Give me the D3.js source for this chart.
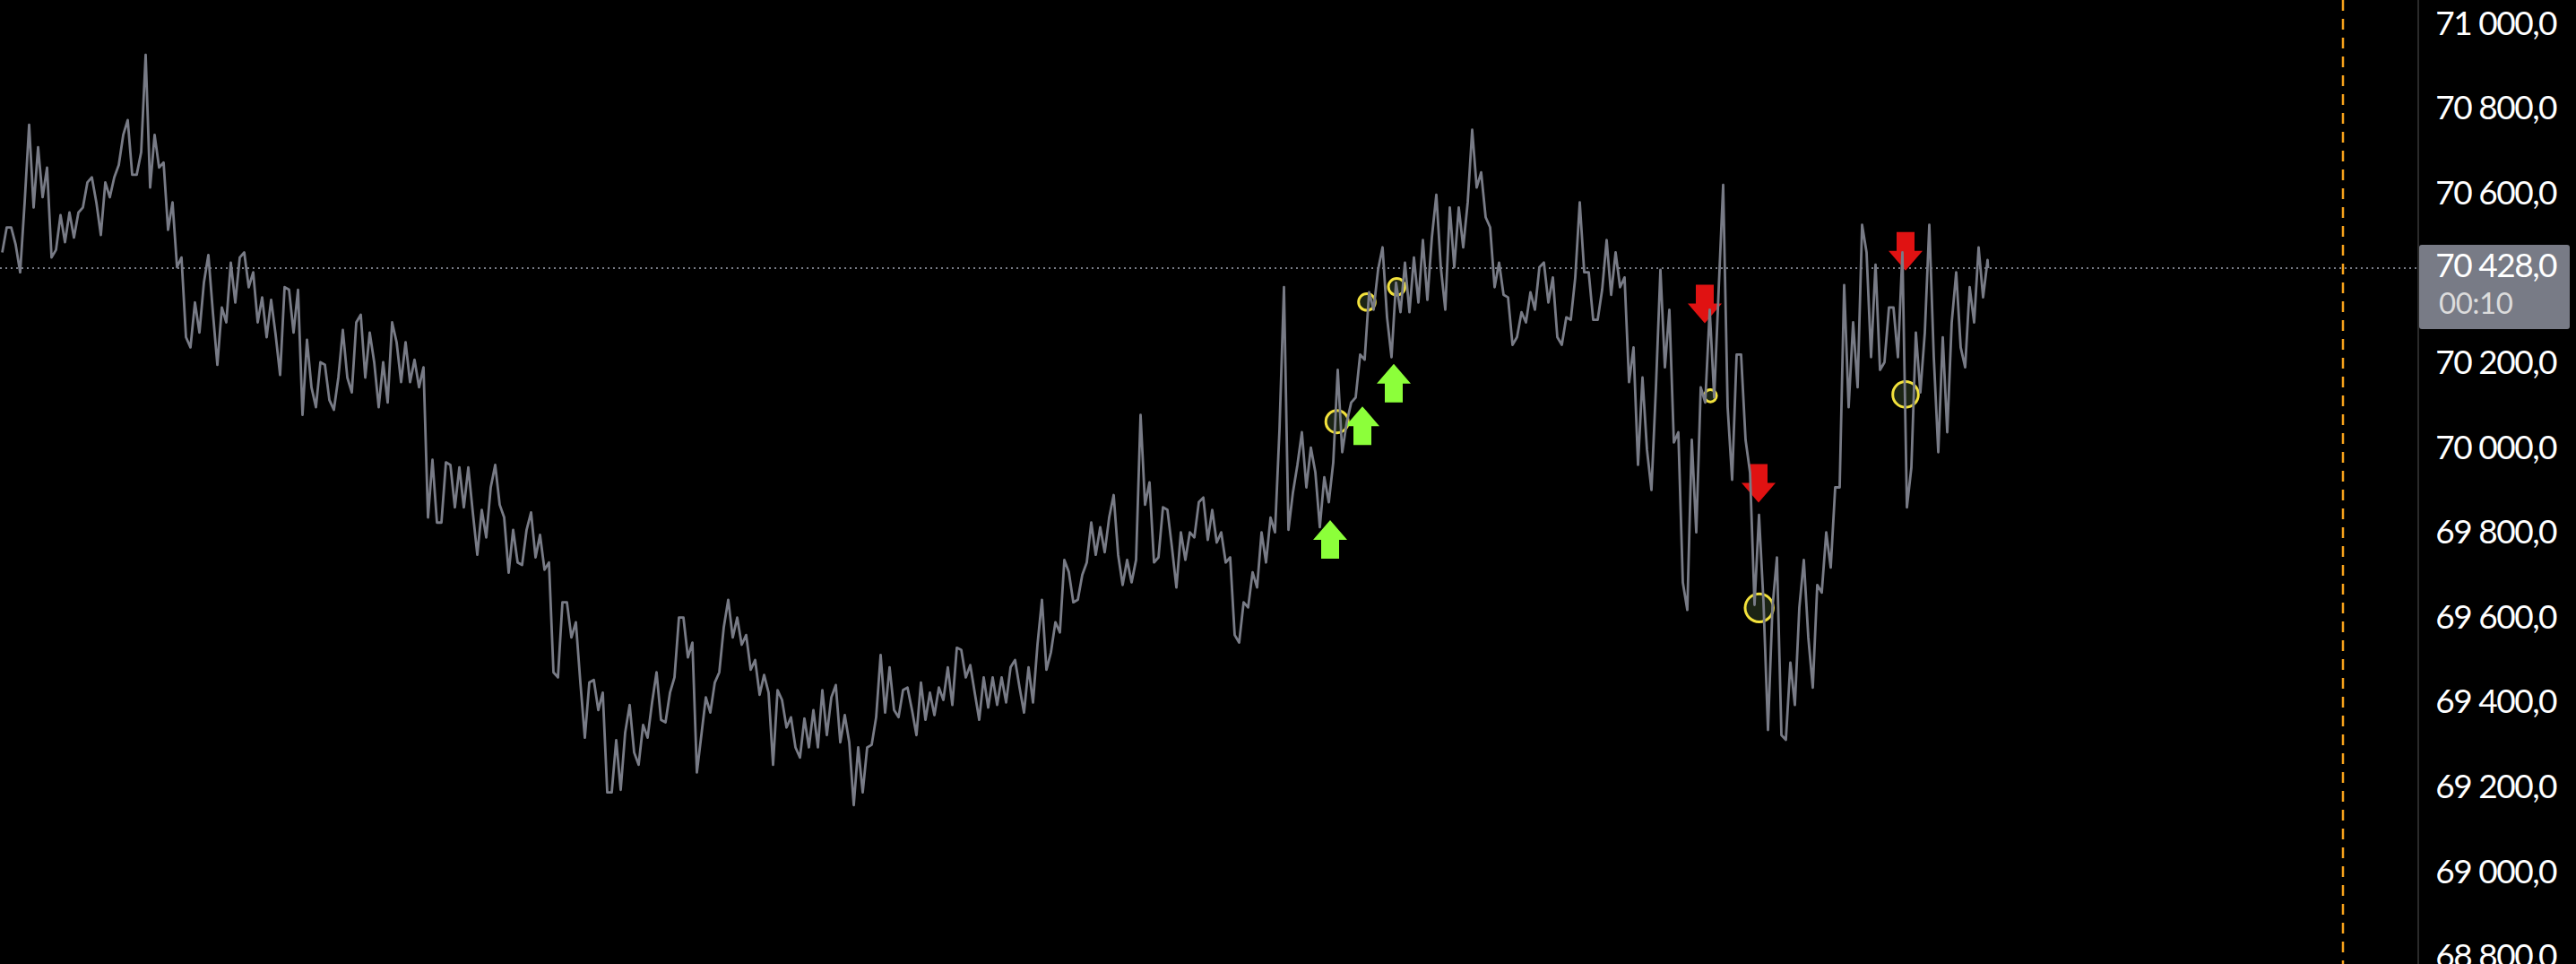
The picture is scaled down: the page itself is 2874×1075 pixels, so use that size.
<!DOCTYPE html>
<html>
<head>
<meta charset="utf-8">
<script src="https://cdnjs.cloudflare.com/ajax/libs/d3/7.8.5/d3.min.js"></script>
<style>
  html, body { margin: 0; padding: 0; background: #000; overflow: hidden; }
  svg { display: block; }
</style>
</head>
<body>
<svg id="svg" width="2874" height="1075"></svg>
<script>
// price range of each time bucket (high / low)
var binHigh = [
  70524, 70524, 70583, 70766, 70713, 70665, 70553, 70559, 70559, 70630,
  70642, 70630, 70642, 70742, 70777, 70701, 70931, 70742, 70677, 70583,
  70453, 70347, 70394, 70459, 70335, 70441, 70453, 70465, 70418, 70359,
  70353, 70383, 70377, 70377, 70259, 70206, 70200, 70170, 70282, 70300,
  70318, 70276, 70206, 70300, 70253, 70253, 70212, 70194, 69976, 69970,
  69964, 69958, 69958, 69858, 69911, 69964, 69840, 69811, 69811, 69852,
  69799, 69734, 69640, 69640, 69593, 69451, 69457, 69427, 69315, 69333,
  69398, 69351, 69404, 69475, 69427, 69604, 69604, 69545, 69416, 69451,
  69581, 69646, 69604, 69563, 69504, 69469, 69433, 69410, 69369, 69366,
  69386, 69433, 69416, 69445, 69374, 69298, 69298, 69369, 69516, 69487,
  69433, 69439, 69451, 69427, 69439, 69487, 69533, 69528, 69492, 69463,
  69463, 69463, 69487, 69504, 69487, 69540, 69646, 69593, 69740, 69711,
  69705, 69828, 69817, 69840, 69893, 69740, 69740, 70082, 69923, 69864,
  69858, 69805, 69805, 69876, 69887, 69858, 69805, 69746, 69640, 69711,
  69805, 69840, 70047, 70383, 69964, 70041, 70005, 69935, 69970, 70188,
  70111, 70224, 70371, 70424, 70477, 70394, 70441, 70453, 70494, 70500,
  70601, 70571, 70571, 70583, 70754, 70654, 70524, 70441, 70359, 70324,
  70371, 70430, 70441, 70406, 70312, 70406, 70583, 70418, 70377, 70494,
  70465, 70406, 70241, 70170, 70147, 70424, 70330, 70041, 70023, 70147,
  70330, 70377, 70624, 70224, 70224, 69946, 69846, 69628, 69746, 69498,
  69628, 69740, 69681, 69805, 69911, 70388, 70300, 70530, 70465, 70436,
  70335, 70335, 70465, 70276, 70276, 70530, 70265, 70300, 70418, 70383,
  70477, 70447
];
var binLow = [
  70465, 70483, 70418, 70571, 70595, 70453, 70471, 70489, 70500, 70571,
  70583, 70506, 70595, 70671, 70648, 70648, 70618, 70665, 70518, 70430,
  70265, 70241, 70276, 70324, 70200, 70300, 70347, 70383, 70300, 70265,
  70271, 70176, 70276, 70082, 70147, 70100, 70117, 70094, 70170, 70135,
  70170, 70206, 70100, 70111, 70159, 70159, 70147, 69840, 69828, 69828,
  69864, 69864, 69852, 69752, 69793, 69870, 69710, 69734, 69728, 69746,
  69717, 69475, 69463, 69557, 69451, 69321, 69386, 69192, 69192, 69198,
  69286, 69257, 69321, 69363, 69357, 69463, 69510, 69239, 69327, 69380,
  69475, 69557, 69540, 69481, 69422, 69427, 69257, 69345, 69298, 69274,
  69298, 69298, 69327, 69310, 69310, 69162, 69192, 69304, 69380, 69386,
  69369, 69386, 69327, 69363, 69374, 69410, 69398, 69463, 69427, 69363,
  69392, 69398, 69404, 69439, 69380, 69404, 69481, 69522, 69569, 69640,
  69646, 69734, 69752, 69758, 69752, 69681, 69687, 69870, 69734, 69746,
  69770, 69675, 69740, 69793, 69787, 69781, 69734, 69563, 69545, 69628,
  69675, 69734, 69805, 69811, 69899, 69911, 69947, 69817, 69876, 69994,
  70064, 70123, 70212, 70330, 70312, 70218, 70324, 70324, 70347, 70353,
  70430, 70330, 70430, 70477, 70618, 70548, 70383, 70365, 70247, 70265,
  70300, 70330, 70347, 70265, 70247, 70306, 70418, 70306, 70306, 70365,
  70383, 70159, 69964, 70000, 69905, 70194, 70017, 69687, 69622, 69805,
  70111, 70123, 70100, 69929, 70023, 69634, 69640, 69339, 69327, 69316,
  69398, 69557, 69439, 69663, 69722, 69911, 70100, 70147, 70218, 70188,
  70206, 70218, 69864, 69958, 70135, 70218, 69994, 70041, 70241, 70194,
  70300, 70359
];
var lastPrice = 70428;
var countdown = "00:10";

var priceTicks = [71000, 70800, 70600, 70400, 70200, 70000, 69800, 69600, 69400, 69200, 69000, 68800];

// signals: bucket position + price at the arrow tip
var buyAt = [148.4, 152.0, 155.5];
var buyPrice = [69834, 70102, 70202];
var sellAt = [190.2, 196.2, 212.6];
var sellPrice = [70298, 69875, 70422];

// yellow rings
var ringAt = [149.17, 152.5, 155.83, 190.83, 196.27, 212.6];
var ringPrice = [70066, 70348, 70384, 70127, 69627, 70130];
var ringSize = [14, 10.8, 10.8, 8.3, 17.2, 15.8];

var sessionEnd = 261.4;

var svg = d3.select("#svg"),
    width = 2874,
    height = 1075,
    paneRight = 2698;

var x = d3.scaleLinear()
    .domain([0, 222])
    .range([0, 2220]);

var y = d3.scaleLinear()
    .domain([68800, 71000])
    .range([1069, 28.4]);

var r = d3.scaleLinear()
    .domain([0, 20])
    .range([0, 20]);

var locale = d3.formatLocale({ decimal: ",", thousands: "\u00a0", grouping: [3], currency: ["", ""] });
var fmt = locale.format(",.1f");

svg.append("rect")
    .attr("width", width)
    .attr("height", height)
    .attr("fill", "#000");

// last price dotted line
svg.append("line")
    .attr("x1", 0)
    .attr("x2", paneRight)
    .attr("y1", y(lastPrice))
    .attr("y2", y(lastPrice))
    .attr("stroke", "#787b86")
    .attr("stroke-width", 2)
    .attr("stroke-dasharray", "2 4");

// rings sit under the price line
svg.append("g")
    .selectAll("circle")
    .data(ringAt)
    .enter()
    .append("circle")
    .attr("cx", function(d) { return x(d); })
    .attr("cy", function(d, i) { return y(ringPrice[i]); })
    .attr("r", function(d, i) { return r(ringSize[i]) - 1.5; })
    .attr("fill", "#1b2414")
    .attr("stroke", "#f3e23c")
    .attr("stroke-width", 3);

function arrow(cx, tip, dir) {
    var p = d3.path();
    var head = 22, len = 43, hw = 19, sw = 10;
    p.moveTo(cx, tip);
    p.lineTo(cx + hw, tip + dir * head);
    p.lineTo(cx + sw, tip + dir * head);
    p.lineTo(cx + sw, tip + dir * len);
    p.lineTo(cx - sw, tip + dir * len);
    p.lineTo(cx - sw, tip + dir * head);
    p.lineTo(cx - hw, tip + dir * head);
    p.closePath();
    return p.toString();
}

svg.append("g")
    .selectAll("path")
    .data(buyAt)
    .enter()
    .append("path")
    .attr("d", function(d, i) { return arrow(x(d), y(buyPrice[i]), 1); })
    .attr("fill", "#8cff3a");

svg.append("g")
    .selectAll("path")
    .data(sellAt)
    .enter()
    .append("path")
    .attr("d", function(d, i) { return arrow(x(d), y(sellPrice[i]), -1); })
    .attr("fill", "#e01212");

// build the tick trace: each bucket runs low->high or high->low towards the next one
var points = [];
binHigh.forEach(function(h, i) {
    var l = binLow[i];
    var next = i + 1 < binHigh.length ? (binHigh[i + 1] + binLow[i + 1]) / 2 : lastPrice;
    var up = next > (h + l) / 2;
    points.push([i + 0.25, up ? l : h]);
    points.push([i + 0.75, up ? h : l]);
});
points.push([221.8, lastPrice]);

var line = d3.line()
    .x(function(d) { return x(d[0]); })
    .y(function(d) { return y(d[1]); });

svg.append("path")
    .datum(points)
    .attr("d", line)
    .attr("fill", "none")
    .attr("stroke", "#787b86")
    .attr("stroke-width", 2.8)
    .attr("stroke-linejoin", "round");

// session end marker
svg.append("line")
    .attr("x1", x(sessionEnd))
    .attr("x2", x(sessionEnd))
    .attr("y1", 0)
    .attr("y2", height)
    .attr("stroke", "#f7a21b")
    .attr("stroke-width", 2.5)
    .attr("stroke-dasharray", "12 9");

// price scale
svg.append("line")
    .attr("x1", paneRight)
    .attr("x2", paneRight)
    .attr("y1", 0)
    .attr("y2", height)
    .attr("stroke", "#2a2a2a")
    .attr("stroke-width", 2);

var yAxis = d3.axisRight(y)
    .tickValues(priceTicks.filter(function(v) { return Math.abs(y(v) - y(lastPrice)) > 50; }))
    .tickFormat(fmt)
    .tickSize(0)
    .tickPadding(0);

svg.append("g")
    .attr("transform", "translate(2852,0)")
    .call(yAxis)
    .attr("font-family", "Lato, sans-serif")
    .attr("font-size", 37)
    .call(function(g) { g.select(".domain").remove(); })
    .selectAll("text")
    .attr("text-anchor", "end")
    .attr("dy", "0.26em")
    .attr("fill", "#ffffff")
    .style("letter-spacing", "-1.5px");

// current price label
var ly = y(lastPrice);
svg.append("rect")
    .attr("x", paneRight + 1)
    .attr("y", ly - 26)
    .attr("width", 168)
    .attr("height", 94)
    .attr("rx", 3)
    .attr("fill", "#787b86");

svg.append("text")
    .attr("x", 2852)
    .attr("y", ly)
    .attr("dy", "0.26em")
    .attr("text-anchor", "end")
    .attr("font-family", "Lato, sans-serif")
    .attr("font-size", 37)
    .style("letter-spacing", "-1.5px")
    .attr("fill", "#ffffff")
    .text(fmt(lastPrice));

svg.append("text")
    .attr("x", 2721)
    .attr("y", ly + 51)
    .attr("font-family", "Lato, sans-serif")
    .attr("font-size", 33)
    .style("letter-spacing", "-0.5px")
    .attr("fill", "#dcdcdc")
    .text(countdown);
</script>
</body>
</html>
